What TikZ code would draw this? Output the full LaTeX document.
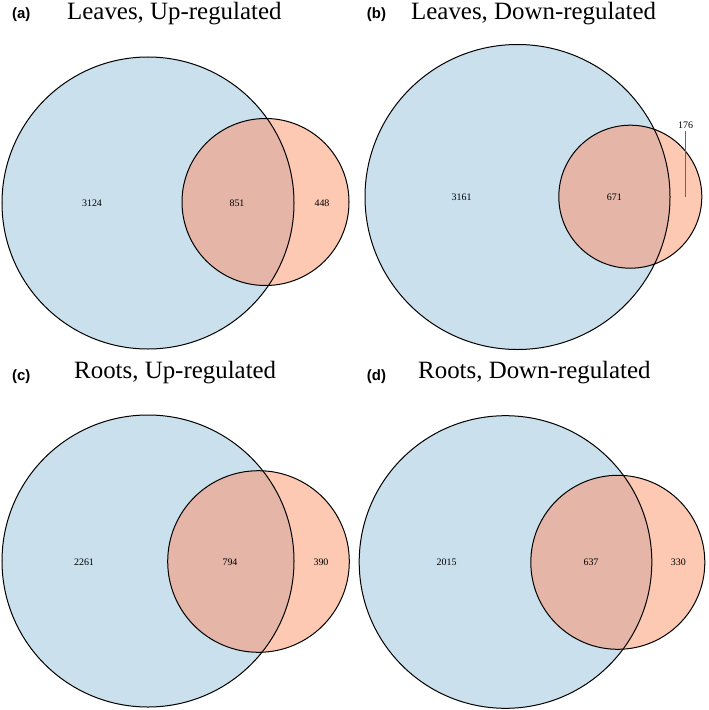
\documentclass[tikz,border=0pt]{standalone}
\usepackage{fontspec}
\setmainfont{Liberation Serif}
\newfontfamily\tagfont{Liberation Sans}
\definecolor{vennblue}{RGB}{202,225,237}
\definecolor{vennsalmon}{RGB}{253,201,178}
\definecolor{vennboth}{RGB}{229,182,168}
\begin{document}
\begin{tikzpicture}[x=1bp,y=-1bp,
  rim/.style={draw=black,line width=1bp},
  title/.style={anchor=base west,font=\fontsize{25}{28}\selectfont},
  tag/.style={anchor=base west,font=\tagfont\bfseries\fontsize{15}{18}\selectfont},
  count/.style={font=\fontsize{10}{12}\selectfont}]
\tikzstyle{every node}+=[inner sep=0pt]
\useasboundingbox (0,0) rectangle (709,710);
% (a)
\fill [vennblue] (148,203) circle (146bp);
\fill [vennsalmon] (265.5,202) circle (83.5bp);
\begin{scope}
\clip (148,203) circle (146bp);
\fill [vennboth] (265.5,202) circle (83.5bp);
\end{scope}
\draw [rim] (148,203) circle (146bp);
\draw [rim] (265.5,202) circle (83.5bp);
\node [tag] (aTag) at (12,18.5) {(a)};
\node [title] (aTitle) at (67,20) {Leaves, Up-regulated};
\node [count] (aLeft) at (92,203) {3124};
\node [count] (aBoth) at (237,203) {851};
\node [count] (aRight) at (322,203) {448};
% (b)
\fill [vennblue] (517.5,197) circle (152.5bp);
\fill [vennsalmon] (630.3,196.7) circle (71.5bp);
\begin{scope}
\clip (517.5,197) circle (152.5bp);
\fill [vennboth] (630.3,196.7) circle (71.5bp);
\end{scope}
\draw [rim] (517.5,197) circle (152.5bp);
\draw [rim] (630.3,196.7) circle (71.5bp);
\node [tag] (bTag) at (366.7,18.5) {(b)};
\node [title] (bTitle) at (411,20) {Leaves, Down-regulated};
\node [count] (bLeft) at (461.7,197.7) {3161};
\node [count] (bBoth) at (614.3,197.7) {671};
\node [count] (bRight) at (685.7,125.7) {176};
\coordinate (bTip) at (685.7,197);
\draw [black!60,line width=0.8bp] (bRight.south) ++(0,2) -- (bTip);
% (c)
\fill [vennblue] (148,561) circle (146bp);
\fill [vennsalmon] (258.5,561.5) circle (90.8bp);
\begin{scope}
\clip (148,561) circle (146bp);
\fill [vennboth] (258.5,561.5) circle (90.8bp);
\end{scope}
\draw [rim] (148,561) circle (146bp);
\draw [rim] (258.5,561.5) circle (90.8bp);
\node [tag] (cTag) at (12,380) {(c)};
\node [title] (cTitle) at (74,378) {Roots, Up-regulated};
\node [count] (cLeft) at (84,562) {2261};
\node [count] (cBoth) at (230,562) {794};
\node [count] (cRight) at (321,562) {390};
% (d)
\fill [vennblue] (505.5,562) circle (146.3bp);
\fill [vennsalmon] (617.8,562.3) circle (87bp);
\begin{scope}
\clip (505.5,562) circle (146.3bp);
\fill [vennboth] (617.8,562.3) circle (87bp);
\end{scope}
\draw [rim] (505.5,562) circle (146.3bp);
\draw [rim] (617.8,562.3) circle (87bp);
\node [tag] (dTag) at (366.7,380) {(d)};
\node [title] (dTitle) at (418,378.5) {Roots, Down-regulated};
\node [count] (dLeft) at (446.7,562) {2015};
\node [count] (dBoth) at (591,562) {637};
\node [count] (dRight) at (678.3,562) {330};
\end{tikzpicture}
\end{document}
